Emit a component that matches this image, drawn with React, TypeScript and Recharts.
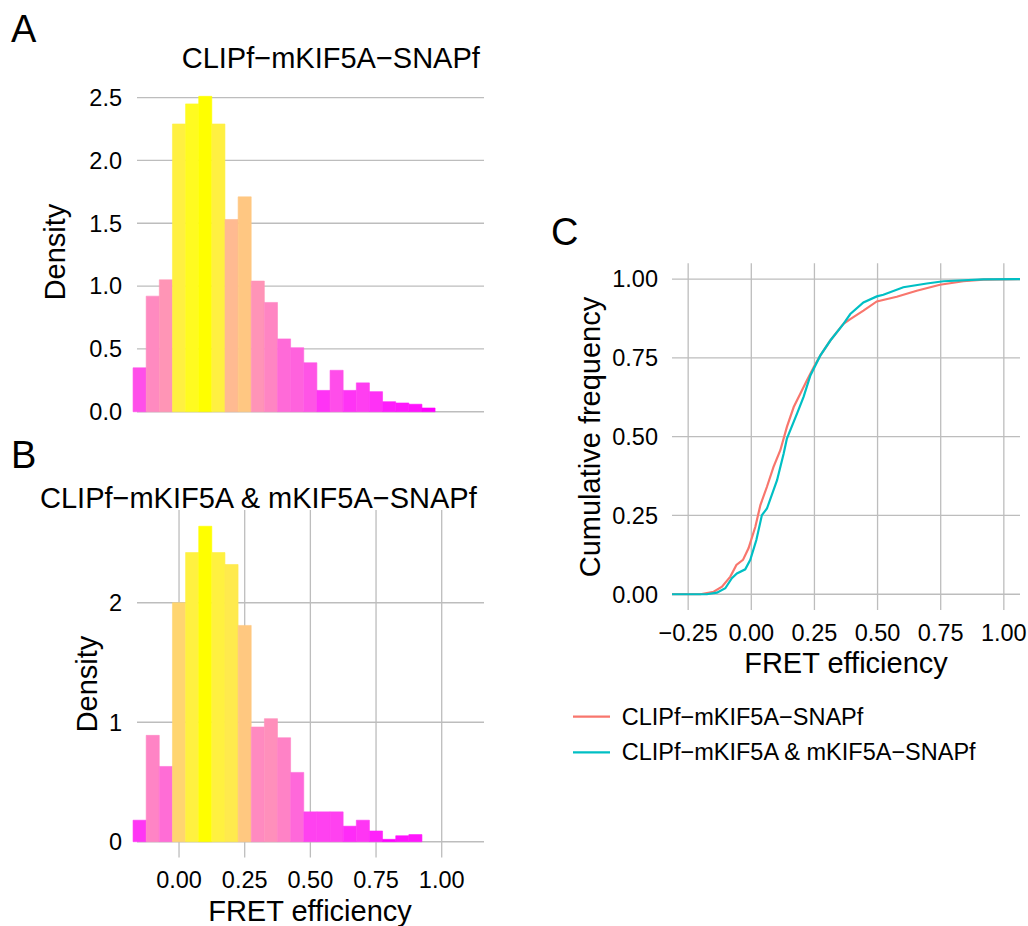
import { Bar, CartesianGrid, Cell, ComposedChart, Line, XAxis, YAxis } from "recharts";

const FONT = "'Liberation Sans', Arial, Helvetica, sans-serif";

// histogram bins (centres, width 0.05)
const binCenters = [-0.15, -0.1, -0.05, 0, 0.05, 0.1, 0.15, 0.2, 0.25, 0.3, 0.35, 0.4, 0.45, 0.5, 0.55, 0.6, 0.65, 0.7, 0.75, 0.8, 0.85, 0.9, 0.95];

// A: CLIPf-mKIF5A-SNAPf
const densityA = [0.35, 0.92, 1.05, 2.29, 2.45, 2.51, 2.29, 1.53, 1.71, 1.04, 0.87, 0.58, 0.51, 0.39, 0.17, 0.33, 0.17, 0.23, 0.16, 0.08, 0.07, 0.06, 0.03];
// B: CLIPf-mKIF5A & mKIF5A-SNAPf
const densityB = [0.18, 0.89, 0.63, 2.0, 2.42, 2.64, 2.42, 2.32, 1.81, 0.96, 1.03, 0.87, 0.58, 0.25, 0.25, 0.25, 0.13, 0.18, 0.09, 0.02, 0.05, 0.06];

const fretTicks = [0, 0.25, 0.5, 0.75, 1];
const densityTicksA = [0, 0.5, 1, 1.5, 2, 2.5];
const densityTicksB = [0, 1, 2];
const cdfXTicks = [-0.25, 0, 0.25, 0.5, 0.75, 1];
const cdfYTicks = [0, 0.25, 0.5, 0.75, 1];

// C: cumulative curves
const cdfSingleX = [-0.314, -0.202, -0.149, -0.116, -0.083, -0.059, -0.033, -0.011, 0.016, 0.036, 0.062, 0.088, 0.115, 0.141, 0.168, 0.194, 0.22, 0.247, 0.273, 0.313, 0.365, 0.392, 0.444, 0.497, 0.576, 0.655, 0.747, 0.84, 0.919, 1.064];
const cdfSingleY = [0, 0, 0.008, 0.024, 0.056, 0.093, 0.109, 0.146, 0.214, 0.283, 0.341, 0.404, 0.457, 0.531, 0.594, 0.636, 0.678, 0.72, 0.757, 0.805, 0.858, 0.873, 0.9, 0.929, 0.944, 0.963, 0.982, 0.993, 0.998, 1];
const cdfPairX = [-0.314, -0.176, -0.136, -0.103, -0.077, -0.057, -0.024, -0.004, 0.02, 0.042, 0.062, 0.102, 0.128, 0.141, 0.181, 0.207, 0.234, 0.273, 0.313, 0.365, 0.392, 0.444, 0.497, 0.523, 0.602, 0.695, 0.761, 0.919, 1.064];
const cdfPairY = [0, 0, 0.005, 0.019, 0.051, 0.066, 0.079, 0.109, 0.172, 0.251, 0.272, 0.362, 0.446, 0.494, 0.573, 0.626, 0.694, 0.757, 0.805, 0.858, 0.889, 0.926, 0.945, 0.95, 0.974, 0.986, 0.993, 0.999, 1];

const seriesNames = ["CLIPf\u2212mKIF5A\u2212SNAPf", "CLIPf\u2212mKIF5A & mKIF5A\u2212SNAPf"];
const seriesColors = ["#F8766D", "#00BFC4"];

const GRID = "#bdbdbd";

// --- colour scale magenta -> yellow, interpolated in Lab like ggplot
function toLab(hex: string) {
  const c = [1, 3, 5].map((i) => parseInt(hex.slice(i, i + 2), 16) / 255).map((v) => (v <= 0.04045 ? v / 12.92 : Math.pow((v + 0.055) / 1.055, 2.4)));
  const X = (0.4124 * c[0] + 0.3576 * c[1] + 0.1805 * c[2]) / 0.95047;
  const Y = 0.2126 * c[0] + 0.7152 * c[1] + 0.0722 * c[2];
  const Z = (0.0193 * c[0] + 0.1192 * c[1] + 0.9505 * c[2]) / 1.08883;
  const f = (t: number) => (t > 0.008856 ? Math.cbrt(t) : 7.787 * t + 16 / 116);
  return [116 * f(Y) - 16, 500 * (f(X) - f(Y)), 200 * (f(Y) - f(Z))];
}
function fromLab([L, a, b]: number[]) {
  const fy = (L + 16) / 116;
  const fx = fy + a / 500;
  const fz = fy - b / 200;
  const inv = (t: number) => (t ** 3 > 0.008856 ? t ** 3 : (t - 16 / 116) / 7.787);
  const X = 0.95047 * inv(fx), Y = inv(fy), Z = 1.08883 * inv(fz);
  const lin = [3.2406 * X - 1.5372 * Y - 0.4986 * Z, -0.9689 * X + 1.8758 * Y + 0.0415 * Z, 0.0557 * X - 0.204 * Y + 1.057 * Z];
  return "#" + lin.map((v) => {
    const g = v <= 0.0031308 ? 12.92 * v : 1.055 * Math.pow(v, 1 / 2.4) - 0.055;
    return Math.round(Math.min(1, Math.max(0, g)) * 255).toString(16).padStart(2, "0");
  }).join("");
}
const LOW = toLab("#FF00FF");
const HIGH = toLab("#FFFF00");
function fillFor(v: number, min: number, max: number) {
  const t = (v - min) / (max - min);
  return fromLab(LOW.map((l, i) => l + (HIGH[i] - l) * t));
}

const tickStyle = { fill: "#000", fontSize: 23.5, fontFamily: FONT };

function Histogram({ values, yTicks, yDomain, top, height, marginTop, showX }: {
  values: number[]; yTicks: number[]; yDomain: [number, number]; top: number; height: number; marginTop: number; showX: boolean;
}) {
  const data = values.map((d, i) => ({ x: binCenters[i], d }));
  const min = Math.min(...values);
  const max = Math.max(...values);
  const xDomain: [number, number] = [-0.16, 1.161];
  const plotW = 484 - 137;
  // just under the band size, otherwise recharts shrinks bars to 90%
  const barW = (plotW * 0.05) / (xDomain[1] - xDomain[0]) - 0.06;
  return (
    <div style={{ position: "absolute", left: 0, top }}>
      <ComposedChart width={500} height={height} data={data} barCategoryGap={0} barGap={0}
        margin={{ top: marginTop, right: 16, left: 77, bottom: showX ? 28.5 : 11.4 }}>
        <CartesianGrid stroke={GRID} strokeWidth={1.3} syncWithTicks />
        <XAxis dataKey="x" type="number" domain={xDomain} ticks={fretTicks} interval={0}
          axisLine={false} tickLine={false} tickSize={0} tickMargin={14}
          height={showX ? 40 : 1} tick={showX ? tickStyle : false}
          tickFormatter={(v: number) => v.toFixed(2)} />
        <YAxis type="number" domain={yDomain} ticks={yTicks} interval={0} width={60}
          axisLine={false} tickLine={false} tickSize={0} tickMargin={15} tick={tickStyle}
          tickFormatter={(v: number) => (yTicks.length > 3 ? v.toFixed(1) : String(v))} />
        <Bar dataKey="d" barSize={barW} isAnimationActive={false}>
          {values.map((v, i) => {
            const c = fillFor(v, min, max);
            return <Cell key={i} fill={c} stroke={c} strokeWidth={0.6} />;
          })}
        </Bar>
      </ComposedChart>
    </div>
  );
}

function CdfPanel() {
  const single = cdfSingleX.map((x, i) => ({ x, y: cdfSingleY[i] }));
  const pair = cdfPairX.map((x, i) => ({ x, y: cdfPairY[i] }));
  return (
    <div style={{ position: "absolute", left: 560, top: 200 }}>
      <ComposedChart width={468} height={460} margin={{ top: 63.3, right: 8, left: 52, bottom: 10 }}>
        <CartesianGrid stroke={GRID} strokeWidth={1.3} syncWithTicks />
        <XAxis dataKey="x" type="number" domain={[-0.314, 1.064]} ticks={cdfXTicks} interval={0}
          axisLine={false} tickLine={false} tickSize={0} tickMargin={14} height={40} tick={tickStyle}
          tickFormatter={(v: number) => (v < 0 ? "\u2212" + Math.abs(v).toFixed(2) : v.toFixed(2))}
          allowDuplicatedCategory={false} />
        <YAxis type="number" domain={[-0.05, 1.05]} ticks={cdfYTicks} interval={0} width={60}
          axisLine={false} tickLine={false} tickSize={0} tickMargin={14} tick={tickStyle}
          tickFormatter={(v: number) => v.toFixed(2)} />
        <Line data={single} dataKey="y" type="linear" stroke={seriesColors[0]} strokeWidth={2.2} dot={false} isAnimationActive={false} />
        <Line data={pair} dataKey="y" type="linear" stroke={seriesColors[1]} strokeWidth={2.2} dot={false} isAnimationActive={false} />
      </ComposedChart>
    </div>
  );
}

function Labels() {
  const t = { fontFamily: FONT, fill: "#000" };
  return (
    <svg width={1028} height={926} style={{ position: "absolute", left: 0, top: 0, pointerEvents: "none" }}>
      <text x={11} y={41.7} fontSize={38} {...t}>A</text>
      <text x={181.7} y={68.3} fontSize={29} {...t}>{seriesNames[0]}</text>
      <text transform="translate(65,252) rotate(-90)" textAnchor="middle" fontSize={29} {...t}>Density</text>

      <text x={11} y={468} fontSize={38} {...t}>B</text>
      <text x={40} y={508} fontSize={29} {...t}>{seriesNames[1]}</text>
      <text transform="translate(96.7,684) rotate(-90)" textAnchor="middle" fontSize={29} {...t}>Density</text>
      <text x={310} y={921} textAnchor="middle" fontSize={29} {...t}>FRET efficiency</text>

      <text x={551} y={245} fontSize={38} {...t}>C</text>
      <text transform="translate(600,437) rotate(-90)" textAnchor="middle" fontSize={29} {...t}>Cumulative frequency</text>
      <text x={846} y={673} textAnchor="middle" fontSize={29} {...t}>FRET efficiency</text>

      {seriesNames.map((name, i) => (
        <g key={name}>
          <line x1={573} x2={610} y1={716.7 + i * 35.6} y2={716.7 + i * 35.6} stroke={seriesColors[i]} strokeWidth={2.2} />
          <text x={621.7} y={724.5 + i * 35.6} fontSize={23.5} {...t}>{name}</text>
        </g>
      ))}
    </svg>
  );
}

export default function App() {
  return (
    <div style={{ position: "absolute", left: 0, top: 0, width: 1028, height: 926, background: "#fff" }}>
      <Histogram values={densityA} yTicks={densityTicksA} yDomain={[-0.126, 2.64]} top={0} height={440} marginTop={80} showX={false} />
      <Histogram values={densityB} yTicks={densityTicksB} yDomain={[-0.132, 2.776]} top={490} height={436} marginTop={20} showX={true} />
      <CdfPanel />
      <Labels />
    </div>
  );
}
